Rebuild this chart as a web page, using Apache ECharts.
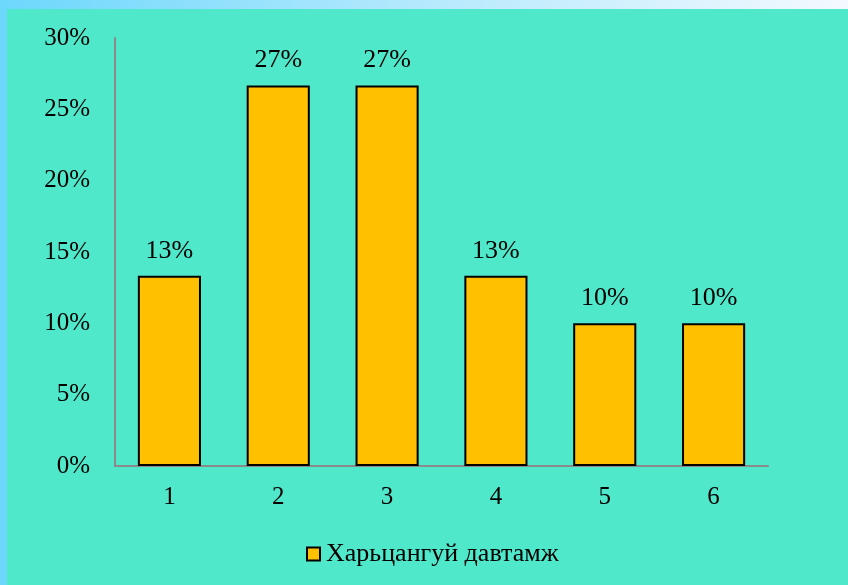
<!DOCTYPE html>
<html>
<head>
<meta charset="utf-8">
<script src="https://cdn.jsdelivr.net/npm/echarts@6/dist/echarts.min.js"></script>
<style>
  html, body { margin: 0; padding: 0; }
  body {
    width: 848px; height: 585px; overflow: hidden; position: relative;
    background: linear-gradient(to right, #6dd7fc 0%, #b5e9fd 50%, #f4f9ff 100%);
  }
  #chart {
    position: absolute; left: 7px; top: 9px; width: 841px; height: 576px;
    background: #50e8ca;
  }
</style>
</head>
<body>
<div id="chart"></div>
<script>
// Relative frequency per group
const categories = ['1', '2', '3', '4', '5', '6'];
const shares = [13.33, 26.67, 26.67, 13.33, 10, 10];
const seriesName = 'Харьцангуй давтамж';
const yTicks = { min: 0, max: 30, step: 5 };

const fontFamily = "'Liberation Serif', 'Times New Roman', serif";
const chart = echarts.init(document.getElementById('chart'), null, { renderer: 'canvas' });

chart.setOption({
  backgroundColor: 'transparent',
  animation: false,
  grid: { left: 108, right: 80, top: 29, bottom: 119, containLabel: false },
  legend: {
    data: [seriesName],
    top: 527,
    left: 294,
    icon: 'rect',
    itemWidth: 13,
    itemHeight: 13,
    itemGap: 6,
    itemStyle: { borderColor: '#000', borderWidth: 2 },
    textStyle: { fontFamily, fontSize: 26, color: '#000', padding: [0, 0, 0, 1] }
  },
  xAxis: {
    type: 'category',
    data: categories,
    axisLine: { lineStyle: { color: '#8a8a8a', width: 2 } },
    axisTick: { show: false },
    axisLabel: { fontFamily, fontSize: 25, color: '#000', margin: 19 }
  },
  yAxis: {
    type: 'value',
    min: yTicks.min,
    max: yTicks.max,
    interval: yTicks.step,
    splitLine: { show: false },
    axisLine: { show: true, lineStyle: { color: '#8a8a8a', width: 2 } },
    axisTick: { show: false },
    axisLabel: { fontFamily, fontSize: 25, color: '#000', margin: 25, formatter: v => v + '%' }
  },
  series: [{
    name: seriesName,
    type: 'bar',
    data: shares,
    barWidth: '58%',
    itemStyle: { color: '#ffc000', borderColor: '#000', borderWidth: 2 },
    label: {
      show: true,
      position: 'top',
      distance: 12,
      fontFamily,
      fontSize: 26,
      color: '#000',
      formatter: p => Math.round(p.value) + '%'
    }
  }]
});
</script>
</body>
</html>
